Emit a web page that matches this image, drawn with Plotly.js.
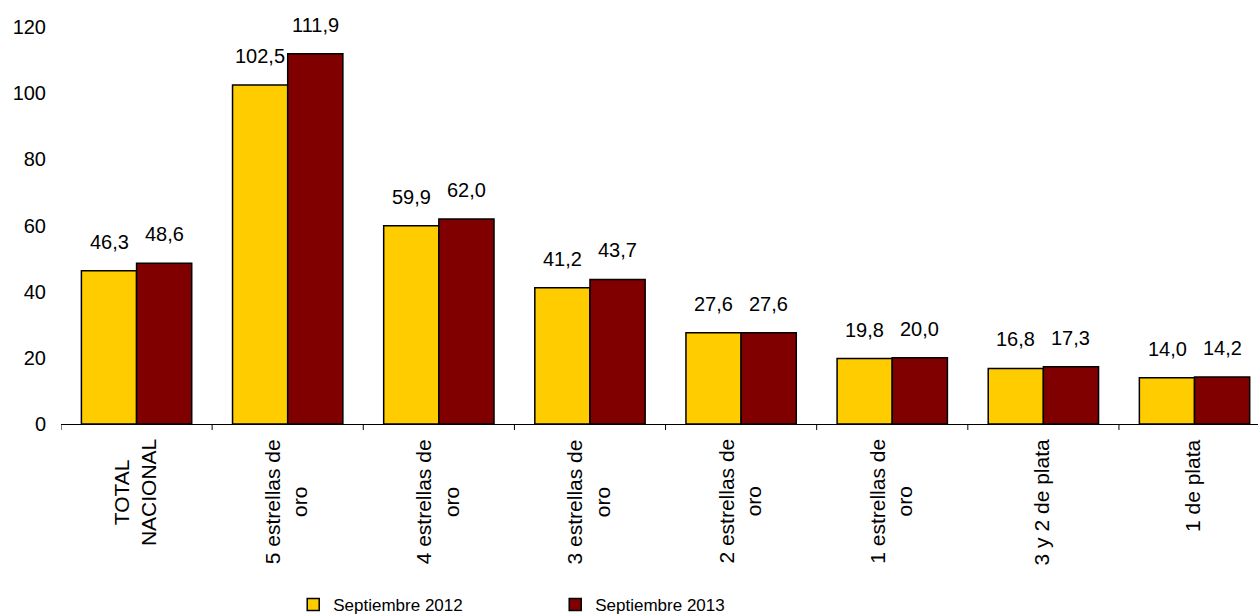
<!DOCTYPE html>
<html><head><meta charset="utf-8">
<script src="https://cdn.plot.ly/plotly-3.0.1.min.js"></script>
<style>html,body{margin:0;padding:0;background:#fff;overflow:hidden}</style>
</head><body>
<div id="chart" style="width:1258px;height:640px"></div>
<script>
const categories = ["TOTAL<br>NACIONAL","5 estrellas de<br>oro","4 estrellas de<br>oro","3 estrellas de<br>oro","2 estrellas de<br>oro","1 estrellas de<br>oro","3 y 2 de plata","1 de plata"];
const series2012 = [46.3,102.5,59.9,41.2,27.6,19.8,16.8,14.0];
const series2013 = [48.6,111.9,62.0,43.7,27.6,20.0,17.3,14.2];
const seriesNames = ["Septiembre 2012","Septiembre 2013"];
const yTicks = [0,20,40,60,80,100,120];

const fmt = v => v.toFixed(1).replace('.', ',');
const fam = "Liberation Sans, Arial, sans-serif";
const font = {family: fam, size: 20, color: "#000"};
const idx = categories.map((_, i) => i);

const traces = [
  {type:'bar', name: seriesNames[0], x: idx, y: series2012,
   marker:{color:'#FFCC00', line:{color:'#000', width:1.5}}, hoverinfo:'y'},
  {type:'bar', name: seriesNames[1], x: idx, y: series2013,
   marker:{color:'#800000', line:{color:'#000', width:1.5}}, hoverinfo:'y'}
];

const off = 0.182;
const annotations = [];
series2012.forEach((v,i)=>annotations.push({x:i-off, y:v, xref:'x', yref:'y', text:fmt(v), showarrow:false, yanchor:'bottom', yshift:16, font:font}));
series2013.forEach((v,i)=>annotations.push({x:i+off, y:v, xref:'x', yref:'y', text:fmt(v), showarrow:false, yanchor:'bottom', yshift:16, font:font}));
categories.forEach((c,i)=>annotations.push({x:i, y:0, xref:'x', yref:'paper', text:c, showarrow:false, textangle:-90,
  xanchor:'center', yanchor:'top', align:'center', yshift:-13, xshift:-2, font:{family:fam, size:21, color:'#000'}}));

const H = 640;
const layout = {
  width:1258, height:H,
  margin:{l:61, r:0, t:27, b:H-424},
  paper_bgcolor:'#fff', plot_bgcolor:'#fff',
  barmode:'group', bargap:0.27, bargroupgap:0,
  font: font,
  showlegend:true,
  legend:{orientation:'h', x:0.194, xanchor:'left', y:-(605-424)/397, yanchor:'middle', entrywidth:217,
          font:{family:fam, size:17, color:'#000'}},
  xaxis:{type:'linear', range:[-0.5, 7.42], showticklabels:false,
         showline:true, linecolor:'#000', linewidth:1, ticks:'', showgrid:false, zeroline:false, fixedrange:true},
  yaxis:{range:[0,120], tickmode:'array', tickvals:yTicks, ticktext:yTicks.map(String), showgrid:false, zeroline:false,
         showline:false, ticks:'', tickfont:font, ticklabelstandoff:14, fixedrange:true},
  shapes: idx.concat([idx.length]).map(i=>({type:'line', xref:'x', yref:'paper', x0:i-0.5, x1:i-0.5, ysizemode:'pixel', yanchor:0, y0:0, y1:-6, line:{color:'#000', width:1}})),
  annotations: annotations
};
Plotly.newPlot('chart', traces, layout, {displayModeBar:false, staticPlot:true});
</script>
</body></html>
